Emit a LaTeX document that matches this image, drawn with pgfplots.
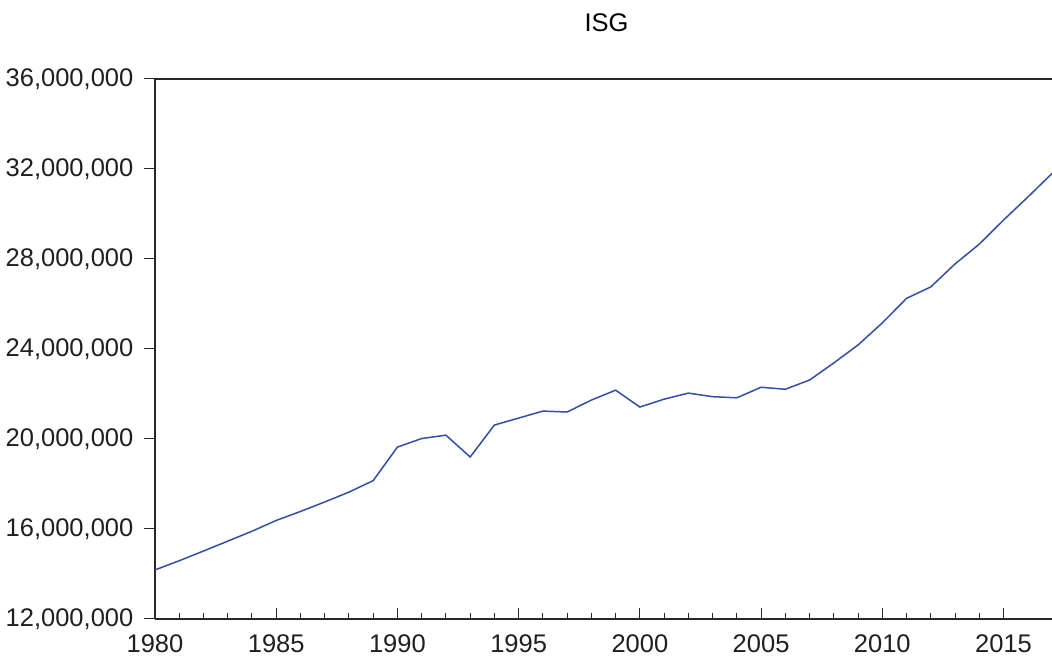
\documentclass[border=0pt]{standalone}
\usepackage{pgfplots}
\pgfplotsset{compat=1.18}
\usepackage{fontspec}
\setmainfont{Liberation Sans}
\definecolor{lineblue}{RGB}{50,78,168}
\definecolor{axgray}{RGB}{40,40,40}
\begin{document}
\fontsize{25.5}{30}\selectfont
\begin{tikzpicture}
\useasboundingbox (-155pt,-44pt) rectangle (897pt,619pt);
\begin{axis}[
  at={(0pt,0pt)}, anchor=south west,
  scale only axis, width=897pt, height=540pt,
  xmin=1980, xmax=2017, ymin=12000000, ymax=36000000,
  scaled y ticks=false, scaled x ticks=false,
  axis x line=box, axis y line=left,
  axis line style={axgray, line width=1.6pt, -},
  y axis line style={-},
  xtick={1980,1985,1990,1995,2000,2005,2010,2015},
  xticklabels={1980,1985,1990,1995,2000,2005,2010,2015},
  minor x tick num=4,
  ytick={12000000,16000000,20000000,24000000,28000000,32000000,36000000},
  yticklabels={{12,000,000},{16,000,000},{20,000,000},{24,000,000},{28,000,000},{32,000,000},{36,000,000}},
  xtick pos=bottom, ytick pos=left,
  xtick align=inside, ytick align=outside,
  major tick length=11pt, minor tick length=6pt,
  every tick/.style={axgray, line width=1pt},
  tick label style={font=\fontsize{25.5}{30}\selectfont, text=black!88},
  xticklabel style={yshift=-7pt},
  yticklabel style={xshift=-2pt},
  title={ISG},
  title style={font=\fontsize{25.5}{30}\selectfont, at={(0.5,1)}, anchor=center, yshift=50pt, xshift=3pt},
  clip=false,
]
\addplot[lineblue, line width=1.5pt] coordinates {
(1980,14180000) (1981,14590000) (1982,15020000) (1983,15460000) (1984,15900000)
(1985,16380000) (1986,16780000) (1987,17200000) (1988,17640000) (1989,18150000)
(1990,19640000) (1991,20020000) (1992,20170000) (1993,19200000) (1994,20620000)
(1995,20930000) (1996,21240000) (1997,21200000) (1998,21730000) (1999,22170000)
(2000,21420000) (2001,21770000) (2002,22040000) (2003,21880000) (2004,21830000)
(2005,22300000) (2006,22210000) (2007,22620000) (2008,23380000) (2009,24180000)
(2010,25160000) (2011,26250000) (2012,26760000) (2013,27780000) (2014,28660000)
(2015,29730000) (2016,30750000) (2017,31800000)
};
\end{axis}
\end{tikzpicture}
\end{document}
